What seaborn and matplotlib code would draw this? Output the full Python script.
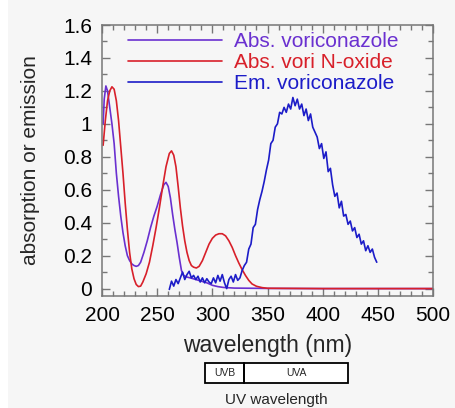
import numpy as np
import pandas as pd
import matplotlib
matplotlib.use("Agg")
import matplotlib.pyplot as plt
import seaborn as sns
from matplotlib.ticker import MultipleLocator
from matplotlib.patches import Rectangle

# absorption of voriconazole (purple)
abs_vori_wl = [201, 202, 203.5, 205, 207, 209, 211, 213, 215, 217, 219, 221, 223, 225, 227,
               229, 231, 233, 235, 238, 241, 244, 247, 250, 253, 256, 258, 260, 262, 264,
               266, 268, 270, 272, 274, 277, 280, 285, 290, 295, 300, 305, 310, 320, 350,
               400, 500]
abs_vori = [1.00, 1.15, 1.23, 1.20, 1.10, 1.00, 0.88, 0.70, 0.56, 0.44, 0.34, 0.26, 0.20, 0.17,
            0.15, 0.14, 0.135, 0.14, 0.16, 0.22, 0.29, 0.37, 0.44, 0.50, 0.57, 0.63, 0.645,
            0.62, 0.55, 0.45, 0.36, 0.28, 0.19, 0.11, 0.08, 0.07, 0.065, 0.055, 0.045, 0.035,
            0.02, 0.012, 0.007, 0.003, 0.001, 0.0, 0.0]

# absorption of voriconazole N-oxide (red)
abs_noxide_wl = [201, 203, 205, 207, 209, 211, 213, 215, 217, 219, 221, 223, 225, 227, 229,
                 231, 233, 235, 237, 240, 243, 246, 249, 252, 255, 258, 261, 263, 265, 267,
                 269, 271, 273, 275, 277, 279, 281, 283, 285.5, 288, 291, 294, 297, 300, 303,
                 306, 309, 312, 315, 318, 321, 324, 327, 330, 333, 336, 340, 345, 350, 400, 500]
abs_noxide = [0.87, 1.02, 1.14, 1.20, 1.225, 1.21, 1.14, 1.02, 0.86, 0.70, 0.52, 0.36, 0.22,
              0.12, 0.06, 0.025, 0.012, 0.015, 0.04, 0.09, 0.16, 0.26, 0.37, 0.49, 0.62, 0.74,
              0.82, 0.836, 0.81, 0.74, 0.62, 0.49, 0.38, 0.29, 0.22, 0.17, 0.14, 0.13, 0.125,
              0.135, 0.17, 0.22, 0.27, 0.305, 0.325, 0.333, 0.333, 0.32, 0.29, 0.25, 0.20,
              0.155, 0.115, 0.08, 0.05, 0.028, 0.014, 0.006, 0.002, 0.0, 0.0]

# emission of voriconazole (blue), 261..449 nm every 2 nm
em_vori_wl = list(range(261, 450, 2))
em_vori = [-0.005, 0.045, 0.015, 0.055, 0.03, 0.065, 0.10, 0.055, 0.085, 0.105, 0.065, 0.08,
           0.055, 0.075, 0.04, 0.065, 0.035, 0.06, 0.04, 0.03, 0.065, 0.035, 0.08, 0.045, 0.085,
           0.035, 0.0, 0.055, 0.075, 0.04, 0.085, 0.05, 0.065, 0.11, 0.14, 0.16, 0.24, 0.27,
           0.37, 0.39, 0.48, 0.54, 0.59, 0.65, 0.72, 0.78, 0.88, 0.90, 0.98, 1.00, 1.07, 1.06,
           1.10, 1.07, 1.12, 1.09, 1.16, 1.11, 1.15, 1.09, 1.12, 1.05, 1.09, 1.02, 1.06, 0.98,
           0.95, 0.92, 0.85, 0.88, 0.79, 0.83, 0.71, 0.73, 0.63, 0.56, 0.58, 0.49, 0.53,
           0.44, 0.45, 0.39, 0.41, 0.35, 0.37, 0.31, 0.33, 0.27, 0.29, 0.23, 0.26, 0.22, 0.24,
           0.19, 0.16]

series_labels = ["Abs. voriconazole", "Abs. vori N-oxide", "Em. voriconazole"]
series_colors = ["#6a30d0", "#d8202a", "#1c1cc8"]

uv_bands = ["UVB", "UVA"]
uv_edges = [290, 320, 400]

sns.set_theme(style="ticks")
plt.rcParams['font.family'] = ['Liberation Sans', 'DejaVu Sans']

bg = "#f6f6f6"
fig = plt.figure(figsize=(4.55, 4.08), dpi=100, facecolor=bg)
fig.patches.append(Rectangle((0, 0), 8 / 455, 1, transform=fig.transFigure,
                             facecolor="white", edgecolor="none", zorder=-1))
ax = fig.add_axes([0.2242, 0.2745, 0.7275, 0.6642], facecolor=bg)

data = [(abs_vori_wl, abs_vori), (abs_noxide_wl, abs_noxide), (em_vori_wl, em_vori)]
for (wl, vals), lab, col in zip(data, series_labels, series_colors):
    df = pd.DataFrame({"wavelength": wl, "value": vals})
    sns.lineplot(data=df, x="wavelength", y="value", ax=ax, color=col, lw=1.2, label=lab)

ax.set_xlim(200, 500)
ax.set_ylim(-0.045, 1.6)
ax.xaxis.set_major_locator(MultipleLocator(50))
ax.xaxis.set_minor_locator(MultipleLocator(10))
ax.yaxis.set_minor_locator(MultipleLocator(0.1))
ax.set_yticks(np.arange(0, 1.61, 0.2))
ax.set_yticklabels(["0", "0.2", "0.4", "0.6", "0.8", "1", "1.2", "1.4", "1.6"])
ax.tick_params(which="both", direction="in", top=True, right=True, colors="#777777",
               labelcolor="black", labelsize=15, width=1)
ax.tick_params(which="major", length=6, pad=7)
ax.tick_params(which="minor", length=3.5)
for s in ax.spines.values():
    s.set_color("#777777")
    s.set_linewidth(1.1)

ax.set_xlabel("wavelength (nm)", fontsize=16.5, labelpad=7)
ax.set_ylabel("absorption or emission", fontsize=15, labelpad=17)

leg = ax.legend(loc="upper left", bbox_to_anchor=(0.0785, 0.974), frameon=False,
                fontsize=15, handlelength=4.5, handletextpad=0.6, labelspacing=0.1,
                borderaxespad=0, borderpad=0, labelcolor="linecolor")

# UV band box below the axis
uax = fig.add_axes([0.4505, 0.0613, 0.3143, 0.049], facecolor="white")
uax.set_xlim(uv_edges[0], uv_edges[-1])
uax.set_ylim(0, 1)
for name, lo, hi in zip(uv_bands, uv_edges[:-1], uv_edges[1:]):
    uax.add_patch(Rectangle((lo, 0), hi - lo, 1, facecolor="none", edgecolor="black",
                            lw=1.3, clip_on=False))
    uax.text((lo + hi) / 2, 0.5, name, ha="center", va="center", fontsize=7.5)
uax.set_xticks([])
uax.set_yticks([])
for s in uax.spines.values():
    s.set_visible(False)
uax.set_xlabel("UV wavelength", fontsize=11, labelpad=7)

fig.savefig("out.png", dpi=100, facecolor=bg)
